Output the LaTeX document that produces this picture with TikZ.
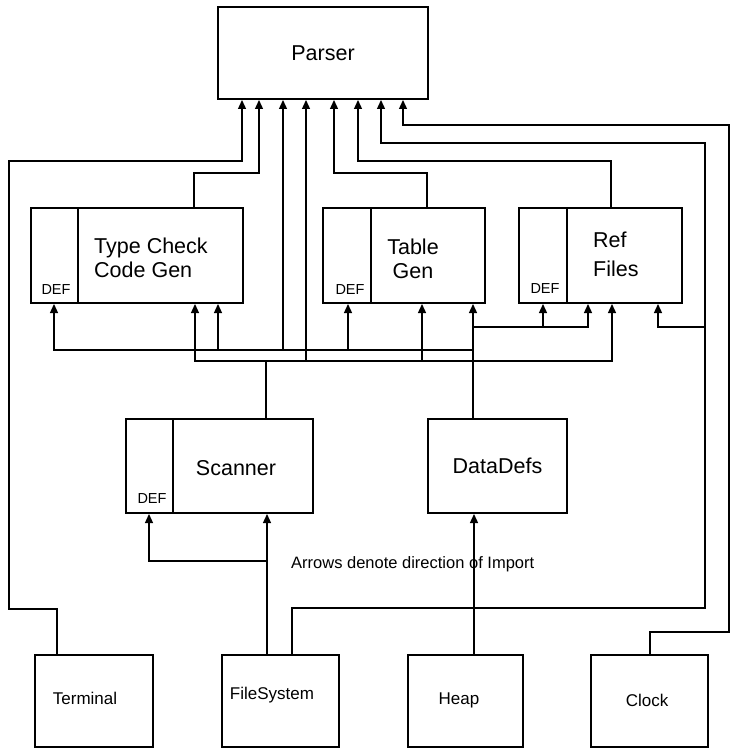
\documentclass[tikz,border=0pt]{standalone}
\usepackage{fontspec}
\setmainfont{Liberation Sans}
\usetikzlibrary{arrows.meta}
\newcommand\fbig{\fontsize{21.5}{24}\selectfont}
\newcommand\fmid{\fontsize{16.5}{19}\selectfont}
\newcommand\fbot{\fontsize{17}{20}\selectfont}
\newcommand\fdef{\fontsize{14.5}{16}\selectfont}
\begin{document}
\begin{tikzpicture}[x=1pt,y=-1pt,
  box/.style={draw, line width=2pt, rectangle, inner sep=0pt, font=\fbig},
  smallbox/.style={box, minimum width=117pt, minimum height=92pt},
  divider/.style={line width=2pt},
  wire/.style={line width=1.3pt},
  imp/.style={wire, -{Triangle[width=8pt,length=9pt]}},
  lbl/.style={font=\fbig, inner sep=0pt},
  botlbl/.style={font=\fbot, inner sep=0pt},
  deflbl/.style={font=\fdef, inner sep=0pt}]
\useasboundingbox (0,0) rectangle (737,749);

% ---- boxes ----
\node[box, minimum width=210pt, minimum height=92pt] (parser) at (323,53) {Parser};

\node[box, minimum width=212pt, minimum height=95pt] (tc) at (137,255.5) {};
\draw[divider] (tc.north -| 78,0) -- (tc.south -| 78,0);
\node[lbl, anchor=west, align=left] (tclbl) at (94,258) {Type Check\\Code Gen};
\node[deflbl] (tcdef) at (56,290) {DEF};

\node[box, minimum width=162pt, minimum height=95pt] (tg) at (404,255.5) {};
\draw[divider] (tg.north -| 371,0) -- (tg.south -| 371,0);
\node[lbl, align=center] (tglbl) at (413,258.5) {Table\\Gen};
\node[deflbl] (tgdef) at (350,290) {DEF};

\node[box, minimum width=163pt, minimum height=95pt] (rf) at (600.5,255.5) {};
\draw[divider] (rf.north -| 567,0) -- (rf.south -| 567,0);
\node[lbl, anchor=west, align=left, font=\fontsize{21.5}{29}\selectfont] (rflbl) at (593,254.5) {Ref\\Files};
\node[deflbl] (rfdef) at (545,289) {DEF};

\node[box, minimum width=187pt, minimum height=94pt] (sc) at (219.5,466) {};
\draw[divider] (sc.north -| 173,0) -- (sc.south -| 173,0);
\node[lbl] (sclbl) at (236,468) {Scanner};
\node[deflbl] (scdef) at (152,499) {DEF};

\node[box, minimum width=139pt, minimum height=94pt] (dd) at (497.5,466) {DataDefs};

\node[smallbox, minimum width=118pt] (term) at (94,701) {};
\node[botlbl] (termlbl) at (85,698) {Terminal};
\node[smallbox] (fs) at (280.5,701) {};
\node[botlbl] (fslbl) at (272,695) {FileSystem};
\node[smallbox, minimum width=115pt] (heap) at (465.5,701) {};
\node[botlbl] (heaplbl) at (459,700) {Heap};
\node[smallbox] (clock) at (649.5,701) {};
\node[botlbl] (clocklbl) at (647,700) {Clock};

\node[font=\fmid, inner sep=0pt, anchor=west] (note) at (291,564) {Arrows denote direction of Import};

% ---- connectors into Parser ----
\draw[imp] (term.north -| 57,0) -- (57,609) -- (9,609) -- (9,161) -- (242,161) -- (parser.south -| 242,0);
\draw[imp] (tc.north -| 194,0) -- (194,173) -- (259,173) -- (parser.south -| 259,0);
\draw[imp] (tg.north -| 427,0) -- (427,173) -- (334,173) -- (parser.south -| 334,0);
\draw[imp] (rf.north -| 611,0) -- (611,161) -- (358,161) -- (parser.south -| 358,0);
\draw[imp] (fs.north -| 292,0) -- (292,608) -- (705,608) -- (705,143) -- (381,143) -- (parser.south -| 381,0);
\coordinate (fsj) at (705,327);
\draw[imp] (fsj) -- (658,327) -- (rf.south -| 658,0);
\draw[imp] (clock.north -| 650,0) -- (650,632) -- (729,632) -- (729,125) -- (403,125) -- (parser.south -| 403,0);

% ---- FileSystem -> Scanner, Heap -> DataDefs ----
\draw[imp] (fs.north -| 267,0) -- (sc.south -| 267,0);
\coordinate (scj) at (267,561);
\draw[imp] (scj) -- (149,561) -- (sc.south -| 149,0);
\draw[imp] (heap.north -| 474,0) -- (dd.south -| 474,0);

% ---- Scanner bus (y=361) ----
\draw[imp] (sc.north -| 266,0) -- (266,361) -- (195,361) -- (tc.south -| 195,0);
\draw[imp] (sc.north -| 266,0) -- (266,361) -- (306,361) -- (parser.south -| 306,0);
\draw[imp] (sc.north -| 266,0) -- (266,361) -- (422,361) -- (tg.south -| 422,0);
\draw[imp] (sc.north -| 266,0) -- (266,361) -- (612,361) -- (rf.south -| 612,0);

% ---- DataDefs bus (y=350, y=327) ----
\draw[imp] (dd.north -| 473,0) -- (tg.south -| 473,0);
\draw[imp] (dd.north -| 473,0) -- (473,350) -- (54,350) -- (tc.south -| 54,0);
\draw[imp] (dd.north -| 473,0) -- (473,350) -- (218,350) -- (tc.south -| 218,0);
\draw[imp] (dd.north -| 473,0) -- (473,350) -- (283,350) -- (parser.south -| 283,0);
\draw[imp] (dd.north -| 473,0) -- (473,350) -- (348,350) -- (tg.south -| 348,0);
\draw[imp] (dd.north -| 473,0) -- (473,327) -- (543,327) -- (rf.south -| 543,0);
\draw[imp] (dd.north -| 473,0) -- (473,327) -- (588,327) -- (rf.south -| 588,0);
\end{tikzpicture}
\end{document}
